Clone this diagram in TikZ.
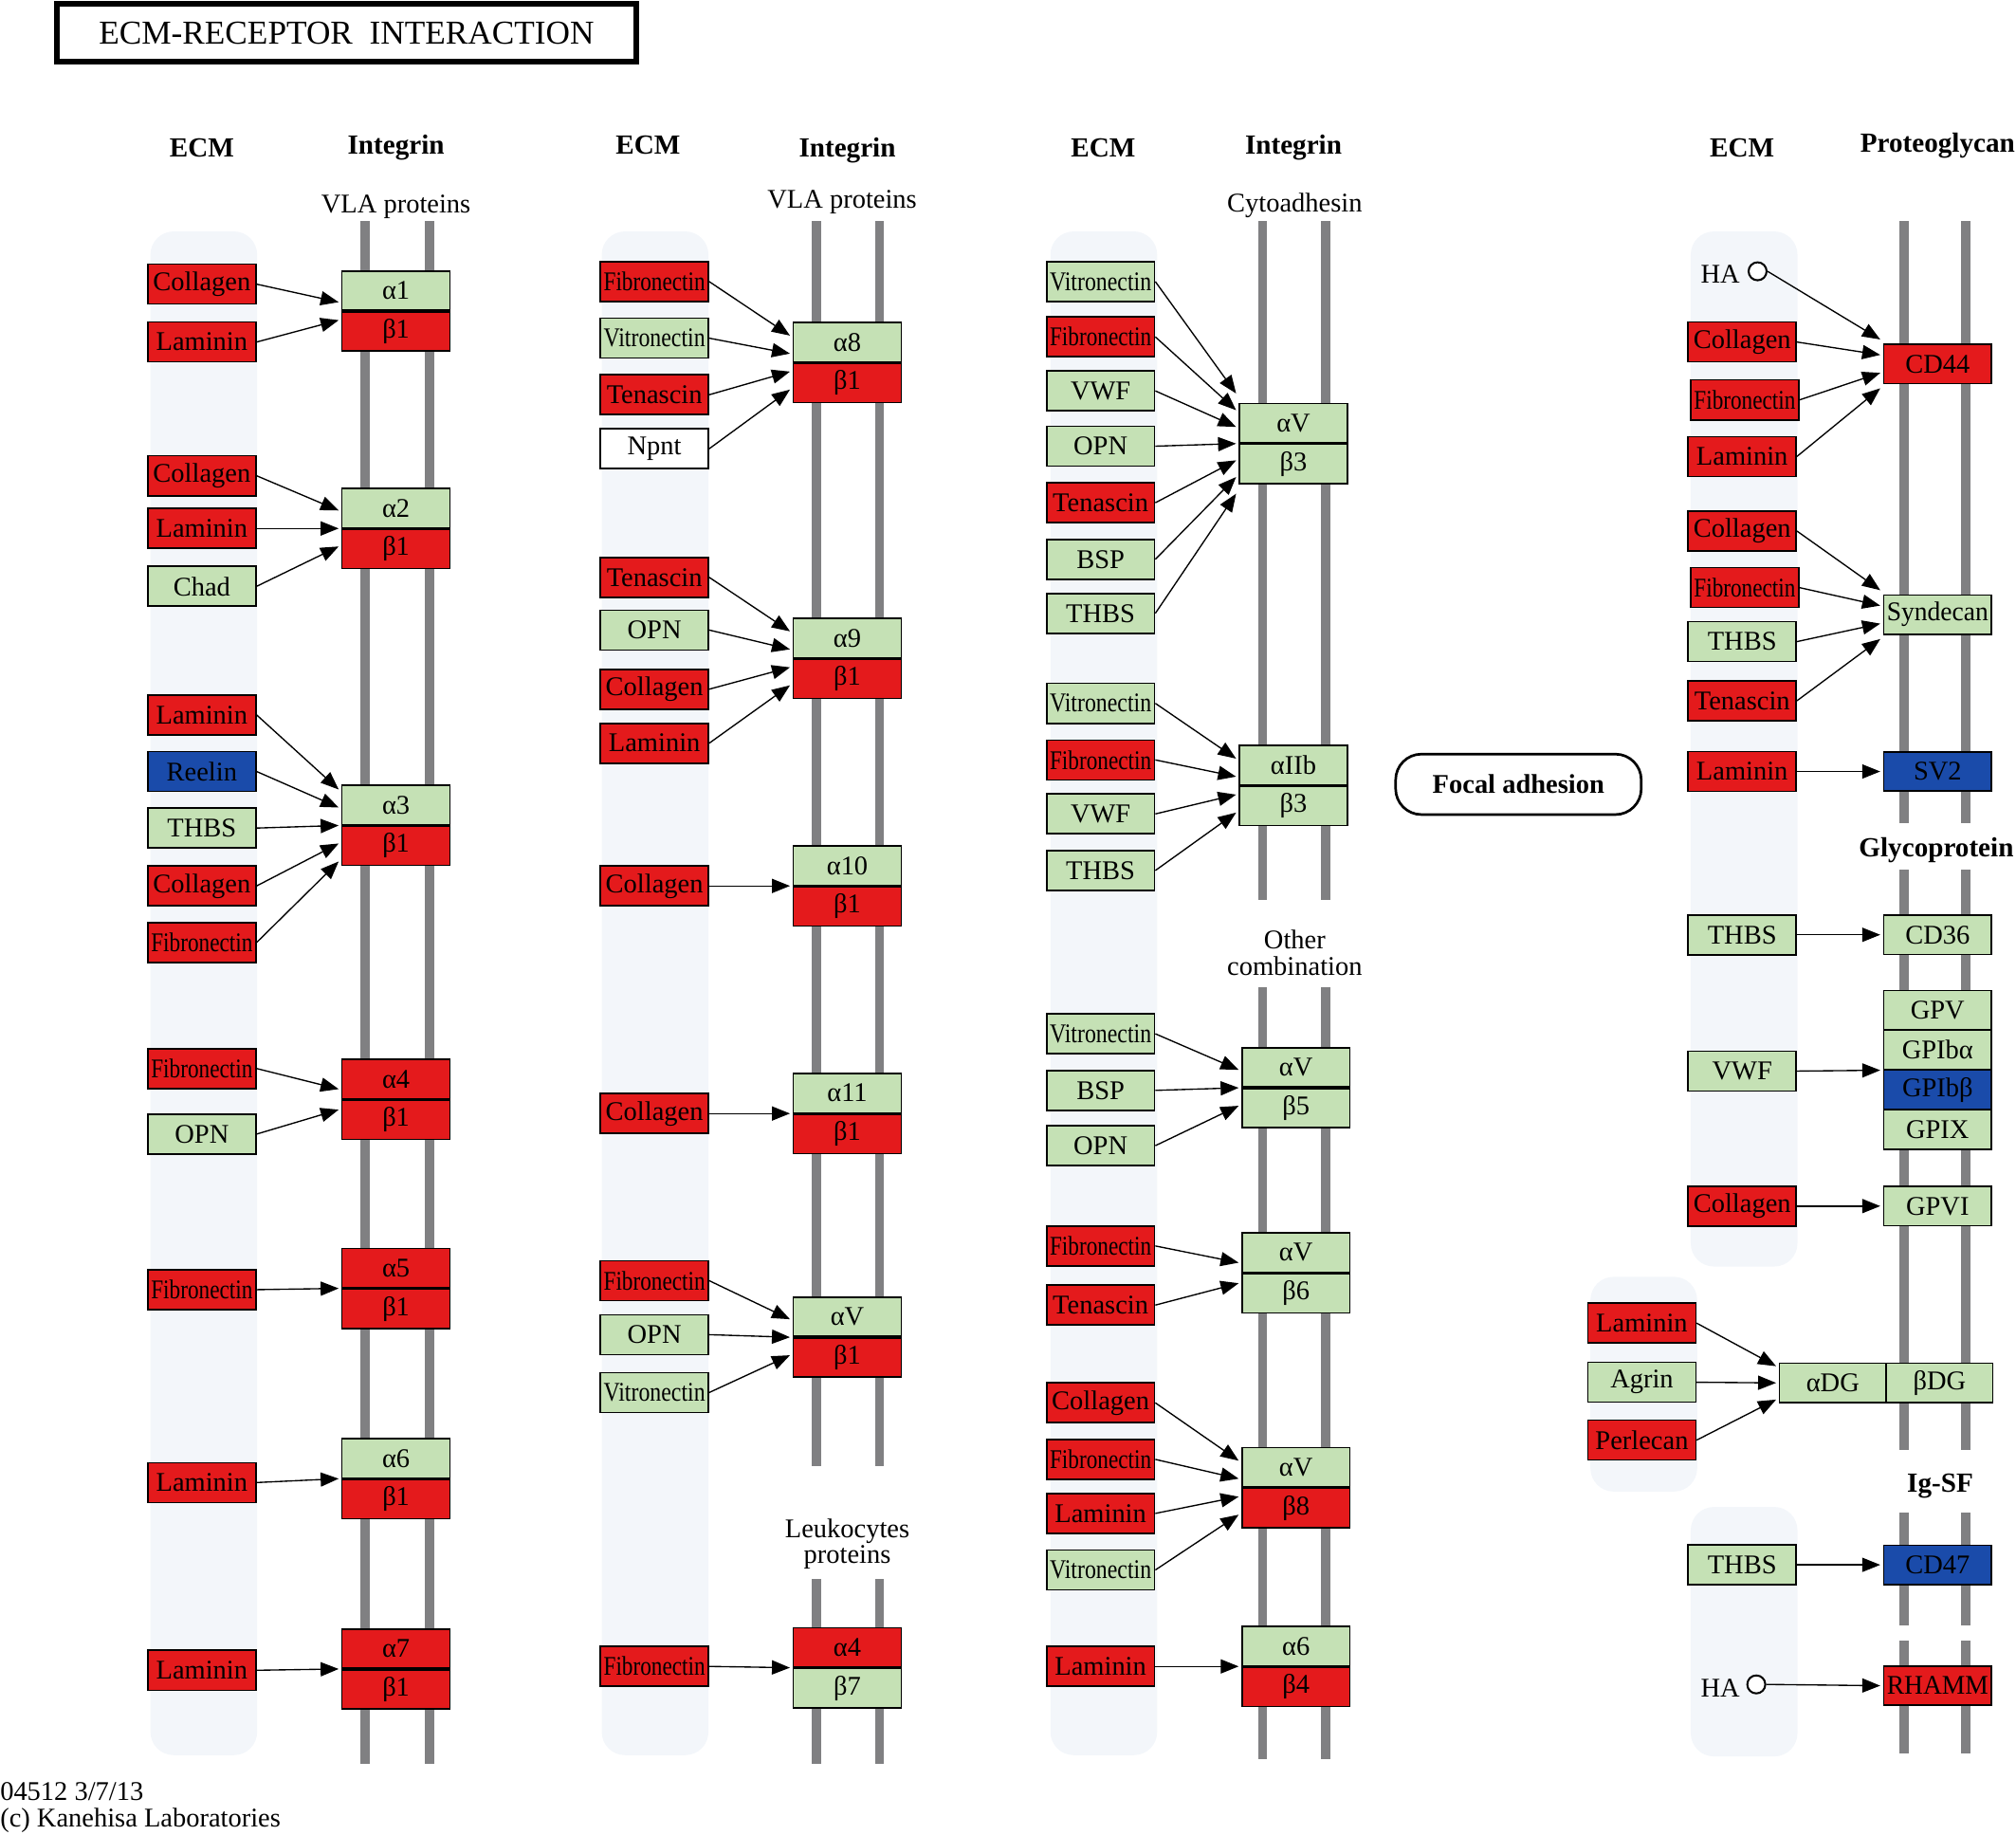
\documentclass[tikz,border=0pt]{standalone}
\usepackage{fontspec}
\setmainfont{Liberation Serif}
\usepackage{graphicx}
\usetikzlibrary{arrows.meta,calc}
\definecolor{kred}{RGB}{228,26,28}
\definecolor{kgreen}{RGB}{197,225,181}
\definecolor{kblue}{RGB}{26,75,170}
\definecolor{kbar}{RGB}{128,128,130}
\definecolor{kbg}{RGB}{243,246,250}
\newsavebox\fitsb
\newcommand\fitw[1]{\sbox\fitsb{#1}\ifdim\wd\fitsb>79pt\resizebox{79pt}{\height}{\usebox\fitsb}\else\usebox\fitsb\fi}
\newcommand\ebox[5]{\node[ecm,fill=#4] (#1) at (#2,#3) {\fitw{#5}};}
\newcommand\rbox[5]{\node[rec,fill=#4] (#1) at (#2,#3) {\fitw{#5}};}
\newcommand\ipair[7]{\node[rec,fill=#4,anchor=south] (#1a) at (#2,#3) {#5};\node[rec,fill=#6,anchor=north] (#1b) at (#2,#3) {#7};}
\newcommand\conn[3]{\draw[arr] (#1.east) -- ($(#2)+(-2,#3)$);}
\newcommand\vbar[3]{\fill[bar] (#1-3.5,#2) rectangle (#1+3.5,#3);}
\begin{document}
\begin{tikzpicture}[x=1pt,y=-1pt,
 ecm/.style={draw, line width=1.2pt, minimum width=84pt, minimum height=31pt, inner sep=0pt, font=\fontsize{21}{24}\selectfont},
 rec/.style={ecm, minimum height=30.5pt},
 hdr/.style={font=\fontsize{21.5}{24}\selectfont\bfseries, inner sep=0pt},
 lbl/.style={font=\fontsize{21}{20}\selectfont, inner sep=0pt, align=center},
 arr/.style={-{Triangle[length=14pt,width=11pt]}, line width=1pt},
 bar/.style={fill=kbar},
 bgp/.style={fill=kbg, rounded corners=18pt},
 hac/.style={circle, draw, line width=1.5pt, minimum size=14pt, inner sep=0pt, fill=white},
]
\useasboundingbox (0,0) rectangle (1568,1427);
% backgrounds
\fill[bgp] (117,180) rectangle (200,1365);
\fill[bgp] (468,180) rectangle (551,1365);
\fill[bgp] (817,180) rectangle (900,1365);
\fill[bgp] (1315,180) rectangle (1398,985);
\fill[bgp] (1237,993) rectangle (1320,1160);
\fill[bgp] (1315,1172) rectangle (1398,1366);
% membrane bars
\vbar{284}{172}{1372}\vbar{334}{172}{1372}
\vbar{635}{172}{1140}\vbar{684}{172}{1140}\vbar{635}{1228}{1372}\vbar{684}{1228}{1372}
\vbar{982}{172}{700}\vbar{1031}{172}{700}\vbar{982}{768}{1368}\vbar{1031}{768}{1368}
\vbar{1481}{172}{640}\vbar{1529}{172}{640}\vbar{1481}{676}{1128}\vbar{1529}{676}{1128}
\vbar{1481}{1176}{1264}\vbar{1529}{1176}{1264}\vbar{1481}{1276}{1364}\vbar{1529}{1276}{1364}
% title
\node[draw, line width=4.5pt, minimum width=451pt, minimum height=45pt, inner sep=0pt, font=\fontsize{26}{28}\selectfont] (title) at (269.5,25.5) {ECM-RECEPTOR\ \ INTERACTION};
% headers
\node[hdr] (h1) at (157,115) {ECM};
\node[hdr] (h2) at (308,115) {Integrin};
\node[hdr] (h3) at (504,113) {ECM};
\node[hdr] (h4) at (659,117) {Integrin};
\node[hdr] (h5) at (858,115) {ECM};
\node[hdr] (h6) at (1006,115) {Integrin};
\node[hdr] (h7) at (1355,115) {ECM};
\node[hdr] (h8) at (1507,113) {Proteoglycan};
\node[hdr] (h9) at (1506,661) {Glycoprotein};
\node[hdr] (h10) at (1509,1156) {Ig-SF};
\node[lbl] (l1) at (308,161) {VLA proteins};
\node[lbl] (l2) at (655,157) {VLA proteins};
\node[lbl] (l3) at (1007,160) {Cytoadhesin};
\node[lbl] (l4) at (659,1201) {Leukocytes\\proteins};
\node[lbl] (l5) at (1007,741) {Other\\combination};
\node[draw, line width=2pt, rounded corners=20pt, minimum width=191pt, minimum height=47pt, inner sep=0pt, font=\fontsize{21}{24}\selectfont\bfseries] (focal) at (1181,610) {Focal adhesion};
\node[lbl, anchor=base west] (ft1) at (0,1400) {04512 3/7/13};
\node[lbl, anchor=base west] (ft2) at (0,1421) {(c) Kanehisa Laboratories};
% column 1
\ebox{c1}{157}{221}{kred}{Collagen}
\ebox{c2}{157}{266}{kred}{Laminin}
\ebox{c3}{157}{370}{kred}{Collagen}
\ebox{c4}{157}{411}{kred}{Laminin}
\ebox{c5}{157}{456}{kgreen}{Chad}
\ebox{c6}{157}{556}{kred}{Laminin}
\ebox{c7}{157}{600}{kblue}{Reelin}
\ebox{c8}{157}{644}{kgreen}{THBS}
\ebox{c9}{157}{689}{kred}{Collagen}
\ebox{c10}{157}{733}{kred}{Fibronectin}
\ebox{c11}{157}{831}{kred}{Fibronectin}
\ebox{c12}{157}{882}{kgreen}{OPN}
\ebox{c13}{157}{1003}{kred}{Fibronectin}
\ebox{c14}{157}{1153}{kred}{Laminin}
\ebox{c15}{157}{1299}{kred}{Laminin}
\ipair{p1}{308}{242}{kgreen}{α1}{kred}{β1}
\ipair{p2}{308}{411}{kgreen}{α2}{kred}{β1}
\ipair{p3}{308}{642}{kgreen}{α3}{kred}{β1}
\ipair{p4}{308}{855}{kred}{α4}{kred}{β1}
\ipair{p5}{308}{1002}{kred}{α5}{kred}{β1}
\ipair{p6}{308}{1150}{kgreen}{α6}{kred}{β1}
\ipair{p7}{308}{1298}{kred}{α7}{kred}{β1}
\conn{c1}{p1a.south west}{-7}\conn{c2}{p1a.south west}{7}
\conn{c3}{p2a.south west}{-14}\conn{c4}{p2a.south west}{0}\conn{c5}{p2a.south west}{14}
\conn{c6}{p3a.south west}{-28}\conn{c7}{p3a.south west}{-14}\conn{c8}{p3a.south west}{0}\conn{c9}{p3a.south west}{14}\conn{c10}{p3a.south west}{28}
\conn{c11}{p4a.south west}{-8}\conn{c12}{p4a.south west}{8}
\conn{c13}{p5a.south west}{0}
\conn{c14}{p6a.south west}{0}
\conn{c15}{p7a.south west}{0}
% column 2
\ebox{d1}{509}{219}{kred}{Fibronectin}
\ebox{d2}{509}{263}{kgreen}{Vitronectin}
\ebox{d3}{509}{307}{kred}{Tenascin}
\ebox{d4}{509}{349}{white}{Npnt}
\ebox{d5}{509}{449}{kred}{Tenascin}
\ebox{d6}{509}{490}{kgreen}{OPN}
\ebox{d7}{509}{536}{kred}{Collagen}
\ebox{d8}{509}{578}{kred}{Laminin}
\ebox{d9}{509}{689}{kred}{Collagen}
\ebox{d10}{509}{866}{kred}{Collagen}
\ebox{d11}{509}{996}{kred}{Fibronectin}
\ebox{d12}{509}{1038}{kgreen}{OPN}
\ebox{d13}{509}{1083}{kgreen}{Vitronectin}
\ebox{d14}{509}{1296}{kred}{Fibronectin}
\ipair{q1}{659}{282}{kgreen}{α8}{kred}{β1}
\ipair{q2}{659}{512}{kgreen}{α9}{kred}{β1}
\ipair{q3}{659}{689}{kgreen}{α10}{kred}{β1}
\ipair{q4}{659}{866}{kgreen}{α11}{kred}{β1}
\ipair{q5}{659}{1040}{kgreen}{αV}{kred}{β1}
\ipair{q6}{659}{1297}{kred}{α4}{kgreen}{β7}
\conn{d1}{q1a.south west}{-21}\conn{d2}{q1a.south west}{-7}\conn{d3}{q1a.south west}{7}\conn{d4}{q1a.south west}{21}
\conn{d5}{q2a.south west}{-21}\conn{d6}{q2a.south west}{-7}\conn{d7}{q2a.south west}{7}\conn{d8}{q2a.south west}{21}
\conn{d9}{q3a.south west}{0}
\conn{d10}{q4a.south west}{0}
\conn{d11}{q5a.south west}{-14}\conn{d12}{q5a.south west}{0}\conn{d13}{q5a.south west}{14}
\conn{d14}{q6a.south west}{0}
% column 3
\ebox{e1}{856}{219}{kgreen}{Vitronectin}
\ebox{e2}{856}{262}{kred}{Fibronectin}
\ebox{e3}{856}{304}{kgreen}{VWF}
\ebox{e4}{856}{347}{kgreen}{OPN}
\ebox{e5}{856}{391}{kred}{Tenascin}
\ebox{e6}{856}{435}{kgreen}{BSP}
\ebox{e7}{856}{477}{kgreen}{THBS}
\ebox{e8}{856}{547}{kgreen}{Vitronectin}
\ebox{e9}{856}{591}{kred}{Fibronectin}
\ebox{e10}{856}{633}{kgreen}{VWF}
\ebox{e11}{856}{677}{kgreen}{THBS}
\ebox{e12}{856}{804}{kgreen}{Vitronectin}
\ebox{e13}{856}{848}{kgreen}{BSP}
\ebox{e14}{856}{891}{kgreen}{OPN}
\ebox{e15}{856}{969}{kred}{Fibronectin}
\ebox{e16}{856}{1015}{kred}{Tenascin}
\ebox{e17}{856}{1091}{kred}{Collagen}
\ebox{e18}{856}{1135}{kred}{Fibronectin}
\ebox{e19}{856}{1177}{kred}{Laminin}
\ebox{e20}{856}{1221}{kgreen}{Vitronectin}
\ebox{e21}{856}{1296}{kred}{Laminin}
\ipair{r1}{1006}{345}{kgreen}{αV}{kgreen}{β3}
\ipair{r2}{1006}{611}{kgreen}{αIIb}{kgreen}{β3}
\ipair{r3}{1008}{846}{kgreen}{αV}{kgreen}{β5}
\ipair{r4}{1008}{990}{kgreen}{αV}{kgreen}{β6}
\ipair{r5}{1008}{1157}{kgreen}{αV}{kred}{β8}
\ipair{r6}{1008}{1296}{kgreen}{α6}{kred}{β4}
\conn{e1}{r1a.south west}{-39}\conn{e2}{r1a.south west}{-26}\conn{e3}{r1a.south west}{-13}\conn{e4}{r1a.south west}{0}\conn{e5}{r1a.south west}{13}\conn{e6}{r1a.south west}{26}\conn{e7}{r1a.south west}{39}
\conn{e8}{r2a.south west}{-21}\conn{e9}{r2a.south west}{-7}\conn{e10}{r2a.south west}{7}\conn{e11}{r2a.south west}{21}
\conn{e12}{r3a.south west}{-14}\conn{e13}{r3a.south west}{0}\conn{e14}{r3a.south west}{14}
\conn{e15}{r4a.south west}{-8}\conn{e16}{r4a.south west}{8}
\conn{e17}{r5a.south west}{-21}\conn{e18}{r5a.south west}{-7}\conn{e19}{r5a.south west}{7}\conn{e20}{r5a.south west}{21}
\conn{e21}{r6a.south west}{0}
% column 4
\node[lbl] (hal1) at (1338,213) {HA};
\node[hac] (ha1) at (1367,211) {};
\ebox{f1}{1355}{266}{kred}{Collagen}
\ebox{f2}{1357}{311}{kred}{Fibronectin}
\ebox{f3}{1355}{355}{kred}{Laminin}
\ebox{f4}{1355}{413}{kred}{Collagen}
\ebox{f5}{1357}{457}{kred}{Fibronectin}
\ebox{f6}{1355}{499}{kgreen}{THBS}
\ebox{f7}{1355}{545}{kred}{Tenascin}
\ebox{f8}{1355}{600}{kred}{Laminin}
\ebox{f9}{1355}{727}{kgreen}{THBS}
\ebox{f10}{1355}{833}{kgreen}{VWF}
\ebox{f11}{1355}{938}{kred}{Collagen}
\ebox{f12}{1277}{1029}{kred}{Laminin}
\ebox{f13}{1277}{1075}{kgreen}{Agrin}
\ebox{f14}{1277}{1120}{kred}{Perlecan}
\ebox{f15}{1355}{1217}{kgreen}{THBS}
\node[lbl] (hal2) at (1338,1313) {HA};
\node[hac] (ha2) at (1366,1310) {};
\rbox{cd44}{1507}{283}{kred}{CD44}
\rbox{syn}{1507}{478}{kgreen}{Syndecan}
\rbox{sv2}{1507}{600}{kblue}{SV2}
\rbox{cd36}{1507}{727}{kgreen}{CD36}
\rbox{gpv}{1507}{785.5}{kgreen}{GPV}
\rbox{gpa}{1507}{816.5}{kgreen}{GPIbα}
\rbox{gpb}{1507}{847.5}{kblue}{GPIbβ}
\rbox{gpix}{1507}{878.5}{kgreen}{GPIX}
\rbox{gpvi}{1507}{938}{kgreen}{GPVI}
\node[rec,fill=kgreen,minimum width=83pt] (adg) at (1425.5,1075.5) {αDG};
\node[rec,fill=kgreen,minimum width=83pt] (bdg) at (1508.5,1075.5) {βDG};
\rbox{cd47}{1507}{1217}{kblue}{CD47}
\rbox{rhamm}{1507}{1311}{kred}{RHAMM}
\conn{ha1}{cd44.west}{-19}\conn{f1}{cd44.west}{-7}\conn{f2}{cd44.west}{7}\conn{f3}{cd44.west}{19}
\conn{f4}{syn.west}{-19}\conn{f5}{syn.west}{-7}\conn{f6}{syn.west}{7}\conn{f7}{syn.west}{19}
\conn{f8}{sv2.west}{0}
\conn{f9}{cd36.west}{0}
\conn{f10}{gpa.south west}{0}
\conn{f11}{gpvi.west}{0}
\conn{f12}{adg.west}{-13}\conn{f13}{adg.west}{0}\conn{f14}{adg.west}{13}
\conn{f15}{cd47.west}{0}
\conn{ha2}{rhamm.west}{0}
\end{tikzpicture}
\end{document}
